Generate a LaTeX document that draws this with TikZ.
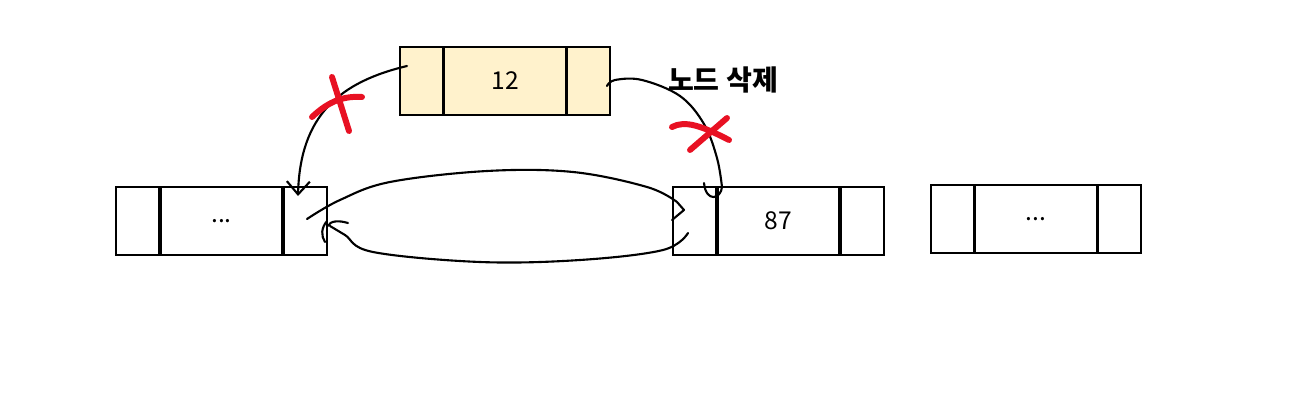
\documentclass[tikz,border=0pt]{standalone}
\usepackage{fontspec}
\setmainfont{Noto Sans CJK KR}
\usetikzlibrary{positioning,arrows.meta}
\definecolor{nodefill}{RGB}{255,242,204}
\definecolor{markred}{RGB}{232,17,35}
\tikzset{
  cell/.style={rectangle,draw=black,line width=1.1pt,minimum height=1.36cm,inner sep=0pt,
              font=\fontsize{14}{16}\selectfont},
  ptr/.style={cell,minimum width=0.86cm},
  val/.style={cell,minimum width=2.42cm},
  pen/.style={line width=1.2pt,line cap=round,line join=round},
  tip/.style={pen,-{Straight Barb[length=2.6mm,width=4.6mm]}},
  cross/.style={draw=markred,line width=3.4pt,line cap=round},
}

\begin{document}
\begin{tikzpicture}[x=0.02cm,y=-0.02cm]
  \useasboundingbox (0,0) rectangle (1302,402);
  % list nodes
  \node[val] (adata) at (221.5,221) {...};
  \node[ptr,left=0pt of adata] (aprev) {};
  \node[ptr,right=0pt of adata] (anext) {};
  \node[val] (bdata) at (778.5,221) {87};
  \node[ptr,left=0pt of bdata] (bprev) {};
  \node[ptr,right=0pt of bdata] (bnext) {};
  \node[val] (cdata) at (1036,219) {...};
  \node[ptr,left=0pt of cdata] (cprev) {};
  \node[ptr,right=0pt of cdata] (cnext) {};
  % node to delete
  \node[val,fill=nodefill] (ddata) at (505,81) {12};
  \node[ptr,fill=nodefill,left=0pt of ddata] (dprev) {};
  \node[ptr,fill=nodefill,right=0pt of ddata] (dnext) {};
  \node[font=\fontsize{16}{18}\selectfont\bfseries] (title) at (723,80) {노드 삭제};
  % link ends
  \coordinate (dfrom) at (407,66);
  \coordinate (ato) at (298,196);
  \coordinate (dback) at (607,86);
  \coordinate (bto) at (722,187);
  \coordinate (afrom) at (307,219);
  \coordinate (bin) at (677,202);
  \coordinate (bfrom) at (688,233);
  \coordinate (ain) at (330,226);
  % old links of 12
  \draw[tip] (dfrom) .. controls (340,82) and (300,115) .. (ato);
  \draw[pen] plot[smooth,tension=0.6] coordinates {(dback) (615,80) (642,80) (680,96) (704,124) (717,158) (bto)}
    .. controls (721,199) and (706,203) .. (704,183);
  % new links
  \draw[pen] plot[smooth,tension=0.6] coordinates {(afrom) (340,200) (390,182) (487,171) (573,172) (647,187) (bin)}
    -- (684,210) -- (672,220);
  \draw[pen] plot[smooth,tension=0.6] coordinates {(bfrom) (663,250) (580,260) (480,262) (373,252) (345,235) (ain)};
  \draw[pen] (348,223) .. controls (338,220) and (330,221) .. (328,226);
  \draw[pen] (327,221) .. controls (321,228) and (321,236) .. (325,242);
  % crosses
  \draw[cross] (312,117) .. controls (330,100) and (345,96) .. (362,97);
  \draw[cross] (332,77) -- (349,131);
  \draw[cross] (672,127) .. controls (685,120) and (702,126) .. (729,140);
  \draw[cross] (727,118) -- (690,150);
\end{tikzpicture}
\end{document}
